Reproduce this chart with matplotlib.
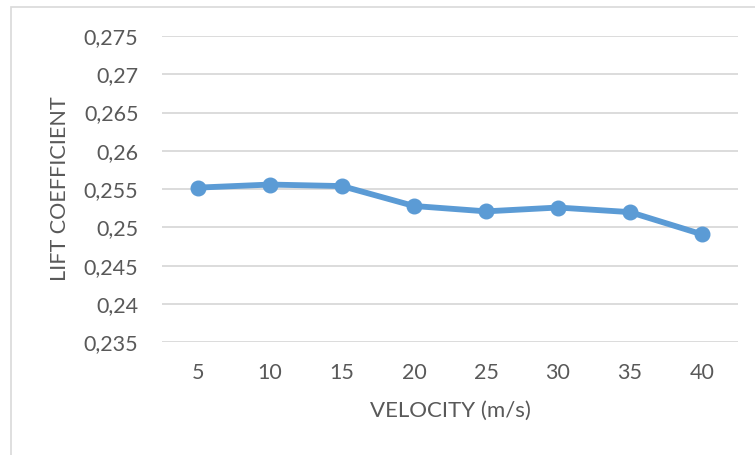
import matplotlib
matplotlib.use("Agg")
import matplotlib.pyplot as plt
from matplotlib.patches import Rectangle
from matplotlib.ticker import FuncFormatter

velocity = ["5", "10", "15", "20", "25", "30", "35", "40"]
lift_coefficient = [0.2552, 0.2556, 0.2554, 0.2528, 0.2521, 0.2526, 0.2520, 0.2491]
y_ticks = [0.235, 0.24, 0.245, 0.25, 0.255, 0.26, 0.265, 0.27, 0.275]

plt.rcParams['font.family'] = ['Lato', 'DejaVu Sans']
text_color = '#595959'

W, H = 755, 455
fig = plt.figure(figsize=(W / 100, H / 100), dpi=100)
ax = fig.add_axes([162 / W, (H - 342.3) / H, (738 - 162) / W, (342.3 - 36) / H])

x = list(range(1, len(velocity) + 1))
ax.plot(x, lift_coefficient, color='#5B9BD5', linewidth=4.2, marker='o',
        markersize=10.5, zorder=3, solid_capstyle='round')

ax.set_xlim(0.5, len(velocity) + 0.5)
ax.set_ylim(0.235, 0.275)
ax.set_yticks(y_ticks)
ax.yaxis.set_major_formatter(FuncFormatter(lambda v, p: ('%g' % round(v, 4)).replace('.', ',')))
ax.set_xticks(x)
ax.set_xticklabels(velocity)

ax.grid(axis='y', color='#D9D9D9', linewidth=1.3, zorder=0)
ax.set_axisbelow(True)
for s in ax.spines.values():
    s.set_visible(False)
ax.tick_params(axis='both', length=0, labelsize=15.5, colors=text_color)
ax.tick_params(axis='y', pad=17)
ax.tick_params(axis='x', pad=15)

ax.set_xlabel('VELOCITY (m/s)', fontsize=16, color=text_color, labelpad=13)
ax.set_ylabel('LIFT COEFFICIENT', fontsize=15.5, color=text_color, labelpad=10)

fig.patches.append(Rectangle((11 / W, -0.01), (W + 5 - 11) / W, 1.01 - 7 / H,
                             transform=fig.transFigure, fill=False,
                             edgecolor='#D9D9D9', linewidth=1.2))

fig.savefig('out.png', dpi=100)
